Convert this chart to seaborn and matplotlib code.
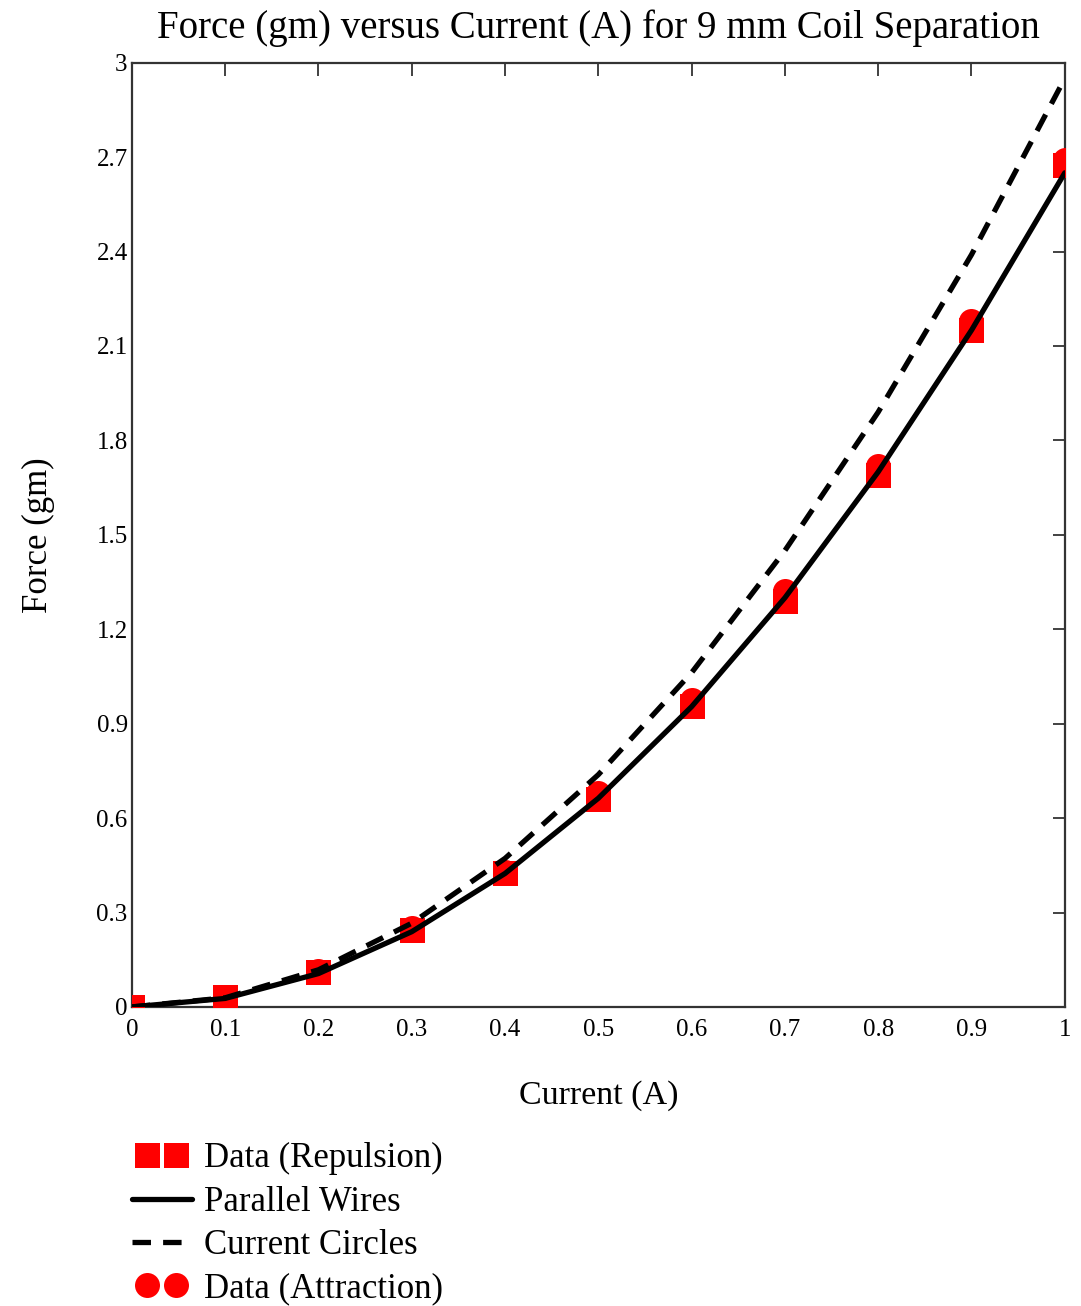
import matplotlib
matplotlib.use("Agg")
import matplotlib.pyplot as plt
from matplotlib.legend_handler import HandlerLine2D
import seaborn as sns

# current values (A)
current = [0.0, 0.1, 0.2, 0.3, 0.4, 0.5, 0.6, 0.7, 0.8, 0.9, 1.0]

# measured forces (gm)
repulsion = [0.0, 0.03, 0.11, 0.245, 0.425, 0.66, 0.955, 1.29, 1.69, 2.15, 2.675]
attraction = [0.0, 0.03, 0.115, 0.25, 0.43, 0.68, 0.975, 1.32, 1.72, 2.18, 2.69]

# model curves (gm)
parallel_wires = [0.0, 0.027, 0.106, 0.239, 0.424, 0.663, 0.954, 1.30, 1.70, 2.15, 2.65]
current_circles = [0.0, 0.029, 0.118, 0.266, 0.472, 0.738, 1.062, 1.45, 1.89, 2.39, 2.95]

x_ticks = [0, 0.1, 0.2, 0.3, 0.4, 0.5, 0.6, 0.7, 0.8, 0.9, 1]
x_ticklabels = ["0", "0.1", "0.2", "0.3", "0.4", "0.5", "0.6", "0.7", "0.8", "0.9", "1"]
y_ticks = [0, 0.3, 0.6, 0.9, 1.2, 1.5, 1.8, 2.1, 2.4, 2.7, 3]
y_ticklabels = ["0", "0.3", "0.6", "0.9", "1.2", "1.5", "1.8", "2.1", "2.4", "2.7", "3"]

sns.set_style("white")
plt.rcParams["font.family"] = ["Liberation Serif", "DejaVu Serif"]
plt.rcParams["text.color"] = "black"
plt.rcParams["axes.labelcolor"] = "black"

fig = plt.figure(figsize=(10.81, 13.06), dpi=100)
ax = fig.add_axes([0.122, 0.229, 0.863, 0.723])

sns.lineplot(x=current, y=repulsion, ax=ax, color="red", marker="s", linestyle="",
             markersize=18, markeredgewidth=0, label="Data (Repulsion)", zorder=3)
sns.lineplot(x=current, y=attraction, ax=ax, color="red", marker="o", linestyle="",
             markersize=18, markeredgewidth=0, label="Data (Attraction)", zorder=3)
sns.lineplot(x=current, y=parallel_wires, ax=ax, color="black", linewidth=3.8,
             label="Parallel Wires", zorder=4)
sns.lineplot(x=current, y=current_circles, ax=ax, color="black", linewidth=3.8,
             linestyle=(0, (3.5, 2.3)), label="Current Circles", zorder=4)

ax.set_xlim(0, 1)
ax.set_ylim(0, 3)
ax.set_xticks(x_ticks)
ax.set_xticklabels(x_ticklabels)
ax.set_yticks(y_ticks)
ax.set_yticklabels(y_ticklabels)
ax.tick_params(direction="in", length=9, width=1.3, color="#333333",
               labelcolor="black", top=True, right=True, labelsize=18)
ax.tick_params(axis="x", pad=9)
ax.tick_params(axis="y", pad=3)
for s in ax.spines.values():
    s.set_color("#333333")
    s.set_linewidth(1.6)

ax.set_xlabel("Current (A)", fontsize=24.5, labelpad=28)
ax.set_ylabel("Force (gm)", fontsize=25, labelpad=30)
ax.set_title("Force (gm) versus Current (A) for 9 mm Coil Separation", fontsize=28, pad=18)

handles, labels = ax.get_legend_handles_labels()
order = ["Data (Repulsion)", "Parallel Wires", "Current Circles", "Data (Attraction)"]
hmap = dict(zip(labels, handles))
ax.get_legend().remove()
marker_handler = HandlerLine2D(marker_pad=0.45)
line_handler = HandlerLine2D(marker_pad=0.0)
fig.legend([hmap[k] for k in order], order, loc="upper left",
           bbox_to_anchor=(0.109, 0.136), frameon=False, fontsize=25,
           numpoints=2, handlelength=1.73, handletextpad=0.35, labelspacing=0.3,
           borderaxespad=0,
           handler_map={hmap["Data (Repulsion)"]: marker_handler,
                        hmap["Data (Attraction)"]: marker_handler,
                        hmap["Parallel Wires"]: line_handler,
                        hmap["Current Circles"]: line_handler})

fig.savefig("out.png", dpi=100)
